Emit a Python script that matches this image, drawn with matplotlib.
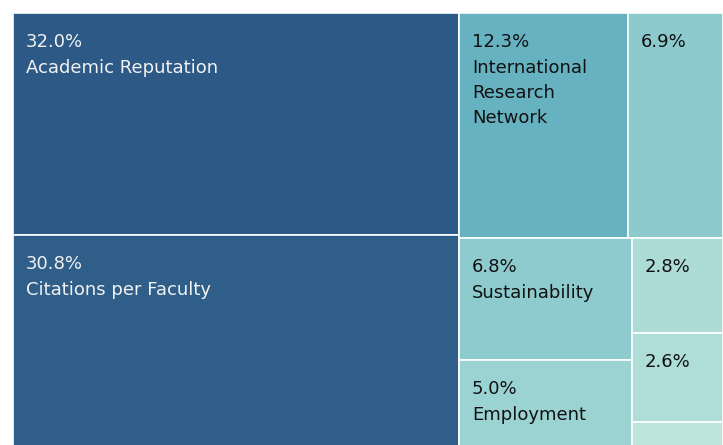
"""Treemap of score contributions, squarified like d3 (golden-ratio target)."""
import matplotlib

matplotlib.use("Agg")
import matplotlib.pyplot as plt  # noqa: E402
from matplotlib.colors import LinearSegmentedColormap, Normalize  # noqa: E402
from matplotlib.patches import Rectangle  # noqa: E402

LABELS = ["Academic Reputation", "Citations per Faculty",
          "International\nResearch\nNetwork", "", "Sustainability",
          "Employment", "", "", ""]
SHARES = [32.0, 30.8, 12.3, 6.9, 6.8, 5.0, 2.8, 2.6, 0.8]

PHI = (1 + 5 ** 0.5) / 2
W, H = 723, 445


def squarify(values, x0, y0, x1, y1, ratio=PHI):
    """Port of d3.treemapSquarify: returns (x, y, w, h) per value."""
    rects = []
    total = sum(values)
    i0 = i1 = 0
    n = len(values)
    while i0 < n:
        dx, dy = x1 - x0, y1 - y0
        s = values[i1]
        i1 += 1
        vmin = vmax = s
        alpha = max(dy / dx, dx / dy) / (total * ratio)
        beta = s * s * alpha
        best = max(vmax / beta, beta / vmin)
        while i1 < n:
            v = values[i1]
            s2 = s + v
            beta = s2 * s2 * alpha
            r = max(max(vmax, v) / beta, beta / min(vmin, v))
            if r > best:
                break
            s, best = s2, r
            vmin, vmax = min(vmin, v), max(vmax, v)
            i1 += 1
        row = values[i0:i1]
        if dx < dy:  # dice: a band across the full width
            h = dy * s / total
            cx = x0
            for v in row:
                w = dx * v / s
                rects.append((cx, y0, w, h))
                cx += w
            y0 += h
        else:  # slice: a column over the full height
            w = dx * s / total
            cy = y0
            for v in row:
                h = dy * v / s
                rects.append((x0, cy, w, h))
                cy += h
            x0 += w
        total -= s
        i0 = i1
    return rects


cmap = LinearSegmentedColormap.from_list(
    "tealblue",
    [(0.0, "#c4e8dc"), (0.16, "#9ad2d2"), (0.38, "#66b3c1"), (1.0, "#2c5985")])
norm = Normalize(vmin=0, vmax=max(SHARES))

fig = plt.figure(figsize=(W / 100, H / 100), dpi=100)
ax = fig.add_axes([0, 0, 1, 1])
ax.set_xlim(0, W)
ax.set_ylim(H, 0)
ax.axis("off")

rects = squarify(SHARES, 13, 13, 723, 449)
for (x, y, w, h), val, lab in zip(rects, SHARES, LABELS):
    ax.add_patch(Rectangle((x, y), w, h, facecolor=cmap(norm(val)),
                           edgecolor="white", linewidth=1.2))
    if h < 40:  # too small for a label, as in the source
        continue
    tc = "#f2f2f2" if val > 20 else "#111111"
    ax.text(x + 13, y + 34, f"{val:.1f}%", color=tc, fontsize=13,
            va="baseline", ha="left")
    for k, line in enumerate(lab.split("\n") if lab else []):
        ax.text(x + 13, y + 60 + 25 * k, line, color=tc, fontsize=13,
                va="baseline", ha="left")

fig.savefig("out.png", dpi=100)
